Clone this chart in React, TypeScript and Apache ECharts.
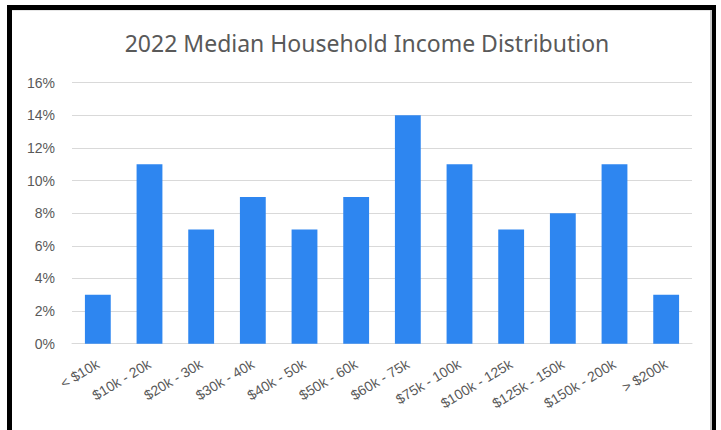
import React, { useEffect, useRef } from "react";
import * as echarts from "echarts";

const categories = [
  "< $10k",
  "$10k - 20k",
  "$20k - 30k",
  "$30k - 40k",
  "$40k - 50k",
  "$50k - 60k",
  "$60k - 75k",
  "$75k - 100k",
  "$100k - 125k",
  "$125k - 150k",
  "$150k - 200k",
  "> $200k",
];
const shares = [3, 11, 7, 9, 7, 9, 14, 11, 7, 8, 11, 3];
const titleText = "2022 Median Household Income Distribution";

export default function App() {
  const ref = useRef<HTMLDivElement>(null);
  useEffect(() => {
    if (!ref.current) return;
    const chart = echarts.init(ref.current, null, { renderer: "svg" });
    chart.setOption({
      animation: false,
      backgroundColor: "#ffffff",
      title: {
        text: titleText,
        left: 362,
        textAlign: "center",
        top: 26,
        textStyle: {
          fontFamily: "Noto Sans",
          fontSize: 23,
          fontWeight: "normal",
          color: "#595959",
        },
      },
      grid: { left: 72, right: 29, top: 82.7, bottom: 86.3 },
      xAxis: {
        type: "category",
        data: categories,
        axisLine: { lineStyle: { color: "#d9d9d9", width: 1 } },
        axisTick: { show: false },
        axisLabel: {
          rotate: 31,
          fontFamily: "Liberation Sans",
          fontSize: 14,
          color: "#595959",
          margin: 19,
          interval: 0,
        },
      },
      yAxis: {
        type: "value",
        min: 0,
        max: 16,
        interval: 2,
        axisLine: { show: false },
        axisTick: { show: false },
        splitLine: { lineStyle: { color: "#d9d9d9", width: 1 } },
        axisLabel: {
          formatter: "{value}%",
          fontFamily: "Liberation Sans",
          fontSize: 14,
          color: "#595959",
          margin: 17,
        },
      },
      series: [
        {
          type: "bar",
          data: shares,
          barWidth: "50%",
          itemStyle: { color: "#2E86F0" },
        },
      ],
      graphic: [
        { type: "rect", shape: { x: 7, y: 5, width: 5, height: 425 }, style: { fill: "#000" } },
        { type: "rect", shape: { x: 7, y: 5, width: 709, height: 5 }, style: { fill: "#000" } },
        { type: "rect", shape: { x: 712, y: 5, width: 4, height: 425 }, style: { fill: "#000" } },
        { type: "rect", shape: { x: 710, y: 10, width: 2, height: 420 }, style: { fill: "#c8c8c8" } },
        { type: "rect", shape: { x: 12, y: 10, width: 698, height: 1 }, style: { fill: "#e6e6e6" } },
      ],
    });
    return () => chart.dispose();
  }, []);
  return (
    <div
      ref={ref}
      style={{ position: "absolute", left: 0, top: 0, width: 721, height: 430 }}
    />
  );
}
